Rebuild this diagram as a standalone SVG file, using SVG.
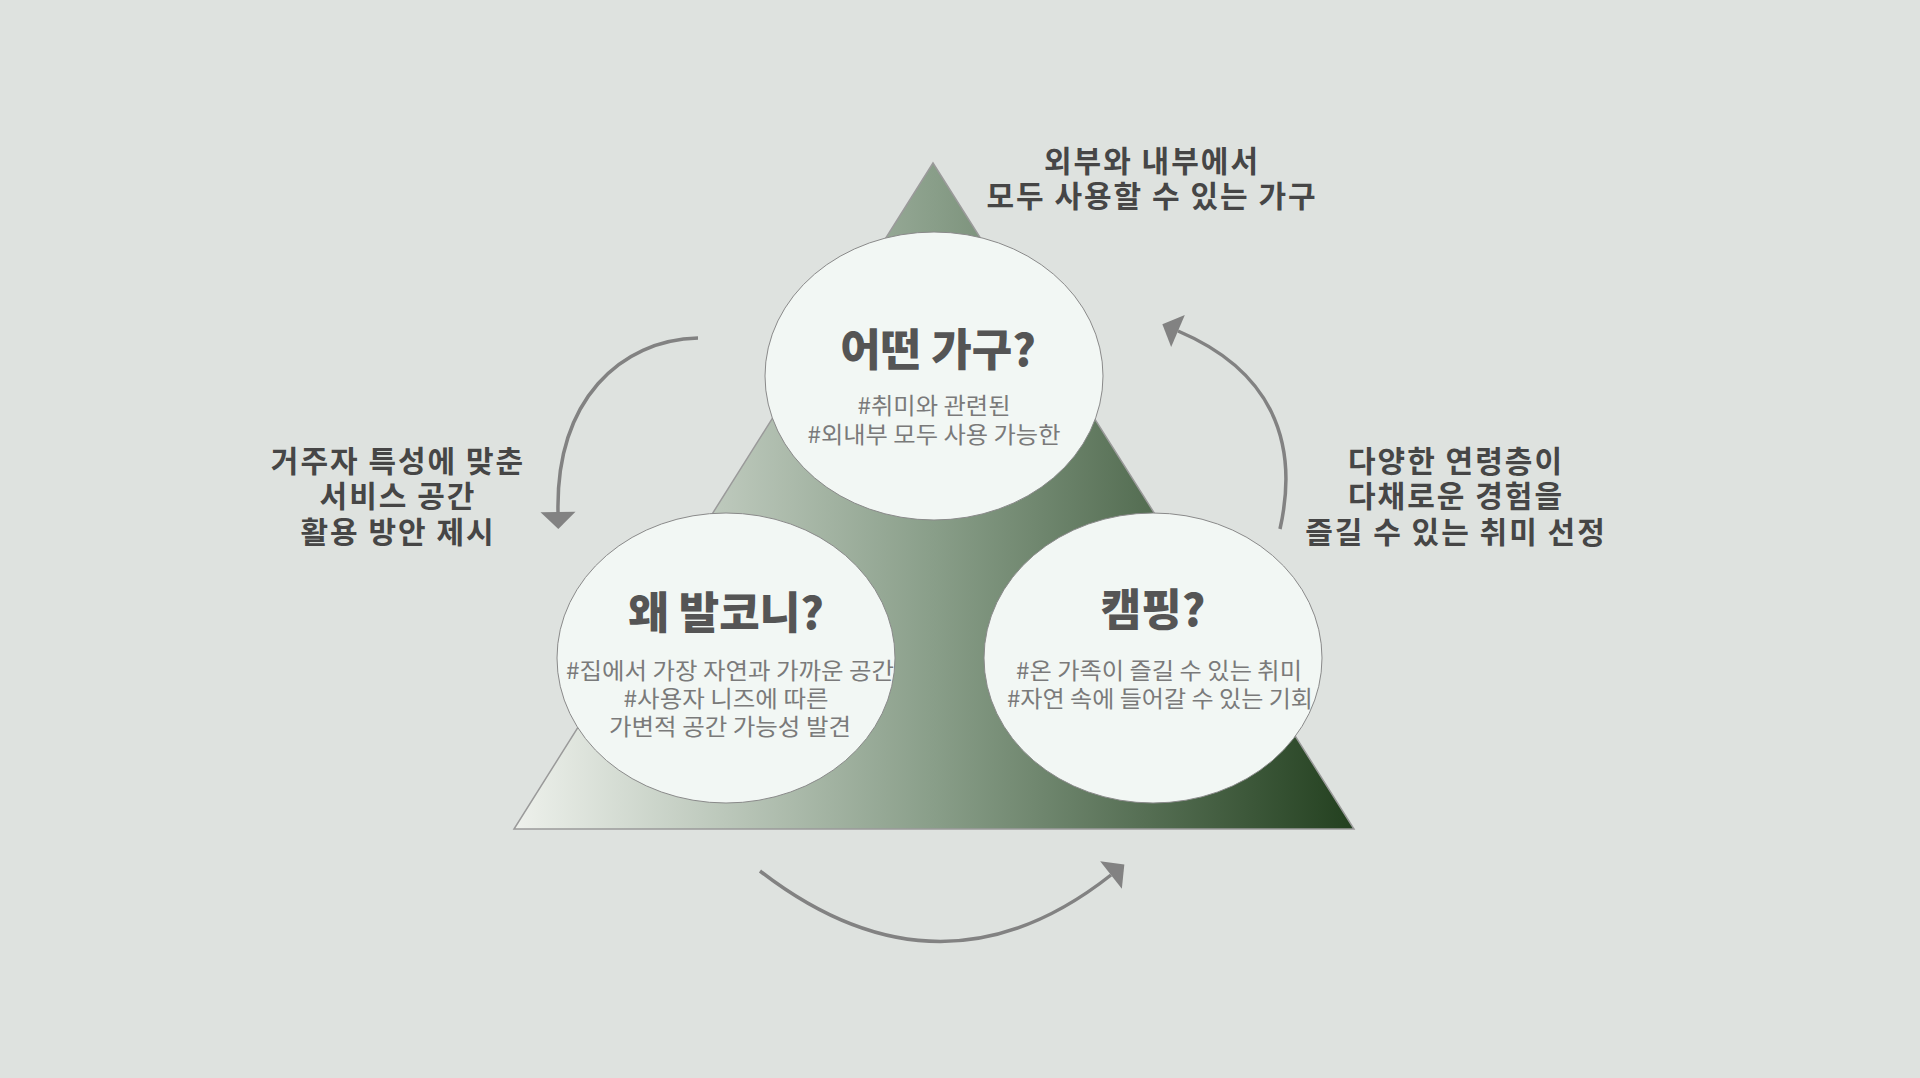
<svg xmlns="http://www.w3.org/2000/svg" width="1920" height="1078" viewBox="0 0 1920 1078">
<defs>
<linearGradient id="tri" x1="514" y1="0" x2="1354" y2="0" gradientUnits="userSpaceOnUse">
<stop offset="0" stop-color="#eef1ec"/>
<stop offset="0.5" stop-color="#899e89"/>
<stop offset="1" stop-color="#23401f"/>
</linearGradient>
<marker id="ah" markerUnits="userSpaceOnUse" markerWidth="40" markerHeight="40" viewBox="0 -20 20 40" refX="0" refY="0" orient="auto">
<path d="M0,-17.5 L17,0 L0,17.5 Z" fill="#828282"/>
</marker>
</defs>
<style>
.bubble{fill:#f2f7f4;stroke:#8a8a8a;stroke-width:1}
.title{font-family:"Noto Sans CJK KR","Noto Sans",sans-serif;font-weight:900;font-size:44px;fill:#555555;text-anchor:middle}
.sub{font-family:"Noto Sans CJK KR","Noto Sans",sans-serif;font-weight:400;font-size:23px;fill:#7a7a7a;text-anchor:middle}
.label{font-family:"Noto Sans CJK KR","Noto Sans",sans-serif;font-weight:700;font-size:30px;letter-spacing:2px;fill:#464646;text-anchor:middle}
.arrow{fill:none;stroke:#828282;stroke-width:3.5;marker-end:url(#ah)}
</style>
<rect x="0" y="0" width="1920" height="1078" fill="#dee2df"/>
<g id="triangle">
<polygon points="933,163 1354,829 514,829" fill="url(#tri)" stroke="#9a9a9a" stroke-width="1.5"/>
</g>
<g id="connectors">
<path class="arrow" d="M698,338 C620,340 556,400 558,512"/>
<path class="arrow" d="M1280,529 C1300,440 1270,370 1178,331"/>
<path class="arrow" d="M760,871 Q940,1010 1111,875"/>
</g>
<g id="node-top">
<ellipse class="bubble" cx="934" cy="376" rx="169" ry="144"/>
<text class="title" x="938" y="366">어떤 가구?</text>
<text class="sub" x="934" y="414" textLength="153" lengthAdjust="spacingAndGlyphs">#취미와 관련된</text>
<text class="sub" x="934" y="443" textLength="253" lengthAdjust="spacingAndGlyphs">#외내부 모두 사용 가능한</text>
</g>
<g id="node-left">
<ellipse class="bubble" cx="726" cy="658" rx="169" ry="145"/>
<text class="title" x="726" y="629">왜 발코니?</text>
<text class="sub" x="730" y="679" textLength="328" lengthAdjust="spacingAndGlyphs">#집에서 가장 자연과 가까운 공간</text>
<text class="sub" x="726" y="707" textLength="205" lengthAdjust="spacingAndGlyphs">#사용자 니즈에 따른</text>
<text class="sub" x="730" y="735" textLength="242" lengthAdjust="spacingAndGlyphs">가변적 공간 가능성 발견</text>
</g>
<g id="node-right">
<ellipse class="bubble" cx="1153" cy="658" rx="169" ry="145"/>
<text class="title" x="1153" y="626">캠핑?</text>
<text class="sub" x="1159" y="679" textLength="286" lengthAdjust="spacingAndGlyphs">#온 가족이 즐길 수 있는 취미</text>
<text class="sub" x="1160" y="707" textLength="306" lengthAdjust="spacingAndGlyphs">#자연 속에 들어갈 수 있는 기회</text>
</g>
<g id="label-top">
<text class="label" x="1152" y="172">외부와 내부에서</text>
<text class="label" x="1152" y="207">모두 사용할 수 있는 가구</text>
</g>
<g id="label-left">
<text class="label" x="398" y="472">거주자 특성에 맞춘</text>
<text class="label" x="398" y="507">서비스 공간</text>
<text class="label" x="398" y="543">활용 방안 제시</text>
</g>
<g id="label-right">
<text class="label" x="1456" y="472">다양한 연령층이</text>
<text class="label" x="1456" y="507">다채로운 경험을</text>
<text class="label" x="1456" y="543">즐길 수 있는 취미 선정</text>
</g>
</svg>
